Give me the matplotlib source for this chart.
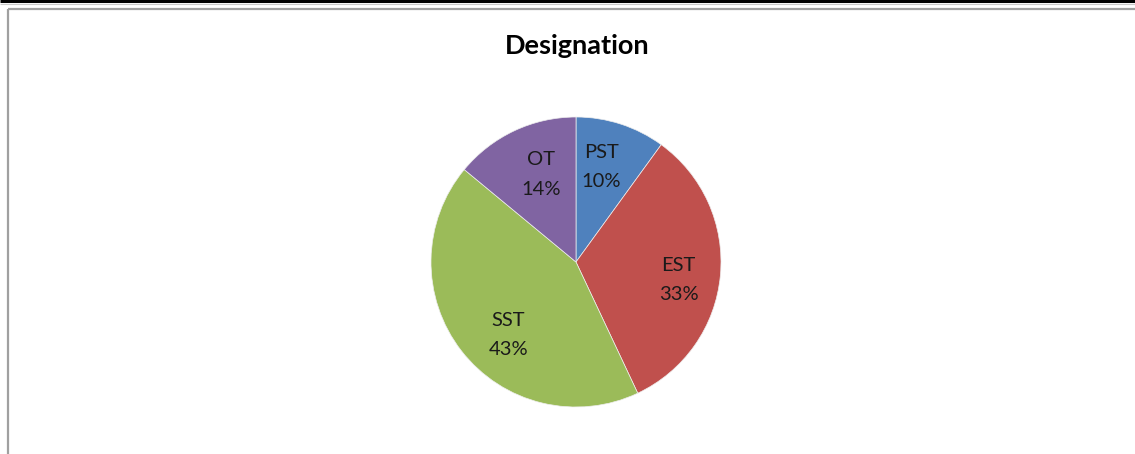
import matplotlib
matplotlib.use("Agg")
import matplotlib.pyplot as plt
from matplotlib.lines import Line2D

categories = ["PST", "EST", "SST", "OT"]
values = [10, 33, 43, 14]
colors = ["#4F81BD", "#C0504D", "#9BBB59", "#8064A2"]
title = "Designation"

W, H, DPI = 1135, 454, 100
fig = plt.figure(figsize=(W / DPI, H / DPI), dpi=DPI)
fig.patch.set_facecolor("white")

plt.rcParams["font.family"] = ["Lato", "DejaVu Sans"]

# frame lines (screenshot border)
def fx(x): return x / W
def fy(y): return 1 - y / H
fig.add_artist(Line2D([0, 1], [fy(1.2), fy(1.2)], color="black", lw=2.2,
                      solid_capstyle="butt", transform=fig.transFigure))
fig.add_artist(Line2D([0, 1], [fy(3.5), fy(3.5)], color="#c8c8c8", lw=0.8,
                      solid_capstyle="butt", transform=fig.transFigure))
fig.add_artist(Line2D([fx(7.5), 1.01], [fy(9), fy(9)], color="#a0a0a0", lw=1.6,
                      solid_capstyle="butt", transform=fig.transFigure))
fig.add_artist(Line2D([fx(7.5), fx(7.5)], [fy(9), -0.01], color="#a0a0a0", lw=1.6,
                      solid_capstyle="butt", transform=fig.transFigure))

# pie axes: center (576, 262), radius 145
cx, cy, r = 576, 262, 145
ax = fig.add_axes([fx(cx - r), fy(cy + r), 2 * r / W, 2 * r / H])
labels = [f"{c}\n{v}%" for c, v in zip(categories, values)]
wedges, texts = ax.pie(values, colors=colors, startangle=90, counterclock=False,
                       labels=labels, labeldistance=0.69,
                       wedgeprops=dict(edgecolor="#eeeeee", linewidth=0.5),
                       textprops=dict(fontsize=14.5, color="#1a1a1a", ha="center", va="center",
                                      linespacing=1.9))
# fine tune label placement (Excel best-fit)
offsets = {"PST": (-0.04, 0.0), "EST": (0.02, -0.06), "SST": (0.08, -0.08), "OT": (0.05, -0.02)}
for t, c in zip(texts, categories):
    x, y = t.get_position()
    dx, dy = offsets[c]
    t.set_position((x + dx, y + dy))
    t.set_horizontalalignment("center")
ax.set_xlim(-1, 1)
ax.set_ylim(-1, 1)
ax.set_aspect("equal")
ax.axis("off")

fig.text(fx(577), fy(46), title, ha="center", va="center", fontsize=19.5, fontweight="bold", color="black")

fig.savefig("out.png", dpi=DPI, facecolor="white")
